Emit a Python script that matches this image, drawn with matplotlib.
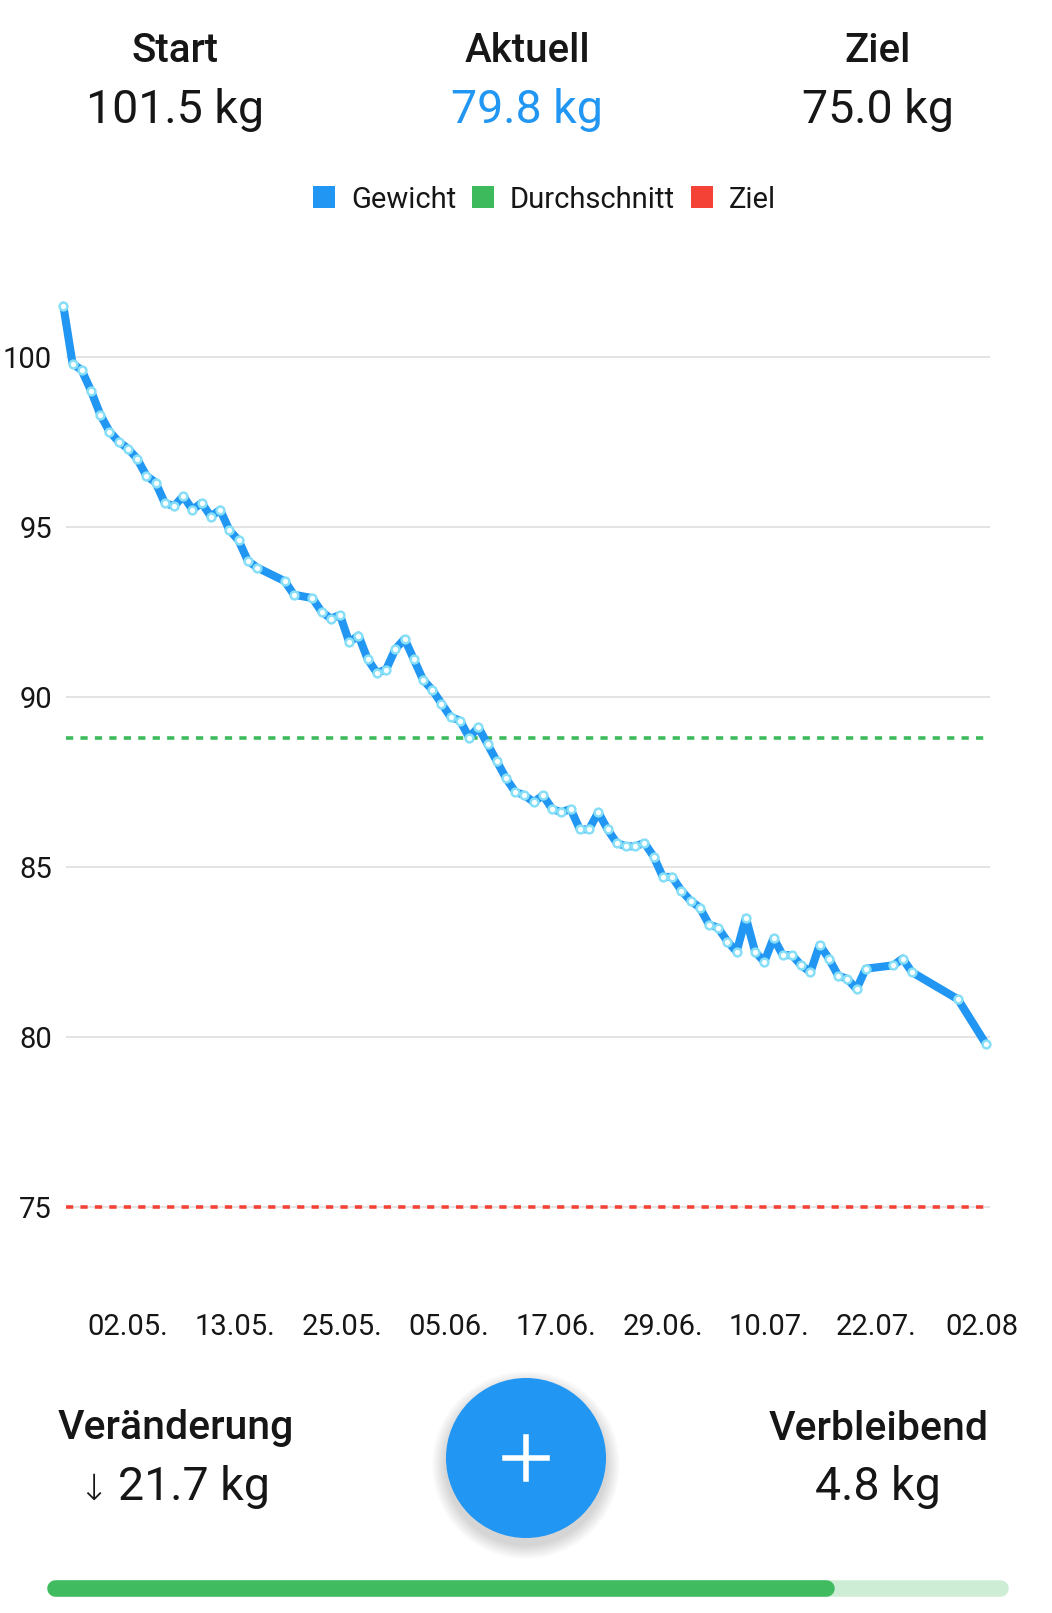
import matplotlib
matplotlib.use("Agg")
import matplotlib.pyplot as plt
from matplotlib.patches import Rectangle, Ellipse
from matplotlib.lines import Line2D

plt.rcParams['font.family'] = ['Roboto', 'DejaVu Sans']

# weight log: days since the first entry, kg
days = [0, 1, 2, 3, 4, 5, 6, 7, 8, 9, 10, 11, 12, 13, 14, 15, 16, 17, 18, 19,
        20, 21, 24, 25, 27, 28, 29, 30, 31, 32, 33, 34, 35, 36, 37, 38, 39, 40,
        41, 42, 43, 44, 45, 46, 47, 48, 49, 50, 51, 52, 53, 54, 55, 56, 57, 58,
        59, 60, 61, 62, 63, 64, 65, 66, 67, 68, 69, 70, 71, 72, 73, 74, 75, 76,
        77, 78, 79, 80, 81, 82, 83, 84, 85, 86, 87, 90, 91, 92, 97, 100]
weights = [101.5, 99.8, 99.6, 99.0, 98.3, 97.8, 97.5, 97.3, 97.0, 96.5,
           96.3, 95.7, 95.6, 95.9, 95.5, 95.7, 95.3, 95.5, 94.9, 94.6,
           94.0, 93.8, 93.4, 93.0, 92.9, 92.5, 92.3, 92.4, 91.6, 91.8,
           91.1, 90.7, 90.8, 91.4, 91.7, 91.1, 90.5, 90.2, 89.8, 89.4,
           89.3, 88.8, 89.1, 88.6, 88.1, 87.6, 87.2, 87.1, 86.9, 87.1,
           86.7, 86.6, 86.7, 86.1, 86.1, 86.6, 86.1, 85.7, 85.6, 85.6,
           85.7, 85.3, 84.7, 84.7, 84.3, 84.0, 83.8, 83.3, 83.2, 82.8,
           82.5, 83.5, 82.5, 82.2, 82.9, 82.4, 82.4, 82.1, 81.9, 82.7,
           82.3, 81.8, 81.7, 81.4, 82.0, 82.1, 82.3, 81.9, 81.1, 79.8]
average = 88.8
goal = 75.0

tick_days = [7.0, 18.6, 30.2, 41.8, 53.4, 65.0, 76.5, 88.1, 99.6]
tick_labels = ["02.05.", "13.05.", "25.05.", "05.06.", "17.06.", "29.06.",
               "10.07.", "22.07.", "02.08"]
y_ticks = [75, 80, 85, 90, 95, 100]

BLUE = '#2196F3'
GREEN = '#3DBB5C'
RED = '#F44336'
TEXT = '#161616'

W, H = 1052, 1613


def fx(x):
    return x / W


def fy(y):
    return 1 - y / H


fig = plt.figure(figsize=(W / 100, H / 100), dpi=100)
fig.patch.set_facecolor('white')

# header
start_w = weights[0]
current_w = weights[-1]
header = [("Start", start_w, 175, TEXT), ("Aktuell", current_w, 527, BLUE),
          ("Ziel", goal, 878, TEXT)]
for title, val, cx, col in header:
    fig.text(fx(cx), fy(62), title, ha='center', va='baseline', fontsize=29,
             fontweight='medium', color=TEXT)
    fig.text(fx(cx), fy(123), "%.1f kg" % val, ha='center', va='baseline',
             fontsize=33.5, color=col)

# legend
legend_items = [("Gewicht", BLUE, 313), ("Durchschnitt", GREEN, 472),
                ("Ziel", RED, 691)]
for name, col, x0 in legend_items:
    fig.add_artist(Rectangle((fx(x0), fy(208)), 22 / W, 22 / H,
                             transform=fig.transFigure, color=col, lw=0))
    fig.text(fx(x0 + 38), fy(208), name, ha='left', va='baseline',
             fontsize=21, color=TEXT)

# chart
top_px, bot_px = 220.7, 1291.7
ax = fig.add_axes([fx(66), fy(bot_px), (990 - 66) / W, (bot_px - top_px) / H])
ax.set_xlim(0.29, 100.47)
ax.set_ylim(72.5, 104.0)
ax.plot(days, weights, color=BLUE, lw=5.8, solid_joinstyle='round',
        solid_capstyle='round', zorder=3, clip_on=False)
ax.plot(days, weights, ls='none', marker='o', ms=5.6, mfc='white',
        mec='#86DFF7', mew=1.8, zorder=4, clip_on=False)
ax.axhline(average, color=GREEN, lw=2.6, dashes=(2.0, 2.0), zorder=2)
ax.axhline(goal, color=RED, lw=2.6, dashes=(2.0, 2.0), zorder=2)

ax.set_yticks(y_ticks)
ax.set_xticks(tick_days)
ax.set_xticklabels(tick_labels)
ax.yaxis.grid(True, color='#E2E2E2', lw=1.3, zorder=1)
ax.set_axisbelow(True)
for s in ax.spines.values():
    s.set_visible(False)
ax.tick_params(axis='y', length=0, pad=10, labelsize=21, labelcolor=TEXT)
ax.tick_params(axis='x', length=0, pad=15, labelsize=21, labelcolor=TEXT)

# bottom stats
change = start_w - current_w
remaining = current_w - goal
fig.text(fx(176), fy(1439), "Veränderung", ha='center', va='baseline',
         fontsize=29.5, fontweight='medium', color=TEXT)
fig.text(fx(93), fy(1500), "↓", ha='center', va='baseline',
         fontsize=26, color=TEXT, family='DejaVu Sans', fontweight='light')
fig.text(fx(118), fy(1500), "%.1f kg" % change, ha='left', va='baseline',
         fontsize=33.5, color=TEXT)
fig.text(fx(879), fy(1440), "Verbleibend", ha='center', va='baseline',
         fontsize=29.5, fontweight='medium', color=TEXT)
fig.text(fx(878), fy(1500), "%.1f kg" % remaining, ha='center', va='baseline',
         fontsize=33.5, color=TEXT)

# floating button with soft shadow
cx, cy, r = 526, 1458, 80
for i in range(14):
    rr = r + 14 - i
    fig.add_artist(Ellipse((fx(cx), fy(cy + 7)), 2 * rr / W, 2 * rr / H,
                           transform=fig.transFigure, color='black',
                           alpha=0.012, lw=0))
fig.add_artist(Ellipse((fx(cx), fy(cy)), 2 * r / W, 2 * r / H,
                       transform=fig.transFigure, color=BLUE, lw=0))
fig.add_artist(Line2D([fx(cx - 21), fx(cx + 21)], [fy(cy), fy(cy)],
                      transform=fig.transFigure, color='white', lw=4.0))
fig.add_artist(Line2D([fx(cx), fx(cx)], [fy(cy - 21), fy(cy + 21)],
                      transform=fig.transFigure, color='white', lw=4.0))

# progress bar
bar_l, bar_r, bar_y, bar_h = 47, 1008, 1587.5, 16.5
frac = (start_w - current_w) / (start_w - goal)
fill_r = bar_l + (bar_r - bar_l) * frac
fig.add_artist(Line2D([fx(bar_l + bar_h / 2), fx(bar_r - bar_h / 2)],
                      [fy(bar_y), fy(bar_y)], transform=fig.transFigure,
                      color='#CDEDD5', lw=bar_h * 0.72,
                      solid_capstyle='round'))
fig.add_artist(Line2D([fx(bar_l + bar_h / 2), fx(fill_r - bar_h / 2)],
                      [fy(bar_y), fy(bar_y)], transform=fig.transFigure,
                      color='#40BB60', lw=bar_h * 0.72,
                      solid_capstyle='round'))

fig.savefig('out.png', dpi=100)
